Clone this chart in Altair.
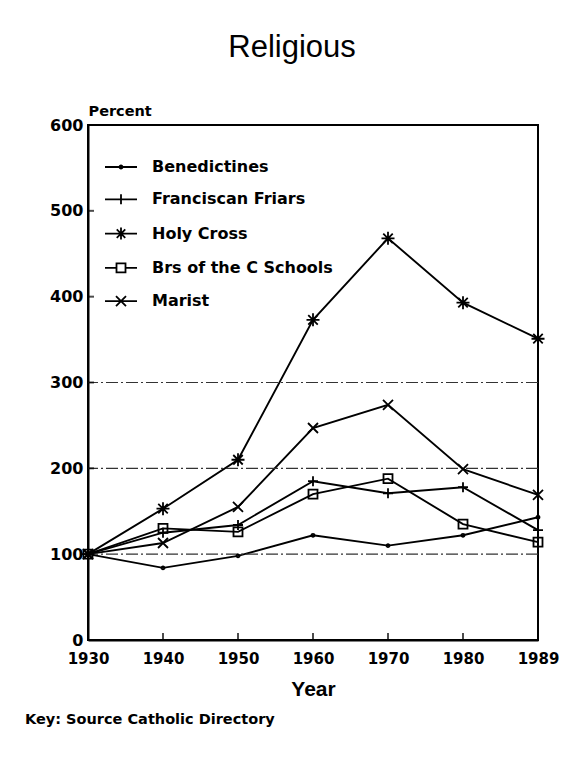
import altair as alt
import pandas as pd

years = ["1930", "1940", "1950", "1960", "1970", "1980", "1989"]
series = ["Benedictines", "Franciscan Friars", "Holy Cross", "Brs of the C Schools", "Marist"]
benedictines = [100, 84, 98, 122, 110, 122, 143]
franciscan = [100, 125, 134, 185, 171, 178, 128]
holy_cross = [100, 153, 210, 373, 468, 393, 351]
brothers = [100, 130, 126, 170, 188, 135, 114]
marist = [100, 113, 155, 247, 274, 199, 169]
grid_values = [100, 200, 300]
y_ticks = [0, 100, 200, 300, 400, 500, 600]

values = [benedictines, franciscan, holy_cross, brothers, marist]
rows = []
for s, vals in zip(series, values):
    for yr, v in zip(years, vals):
        rows.append({"series": s, "year": yr, "value": v})
df = pd.DataFrame(rows)

FONT = "Liberation Sans"
BOLD = "DejaVu Sans"

marker_paths = [
    "M-0.3,0A0.3,0.3 0 1,0 0.3,0A0.3,0.3 0 1,0 -0.3,0Z",
    "M-1,0H1M0,-1V1",
    "M-1.3,0H1.3M0,-1.3V1.3M-0.95,-0.95L0.95,0.95M-0.95,0.95L0.95,-0.95",
    "M-0.9,-0.9H0.9V0.9H-0.9Z",
    "M-1,-1L1,1M-1,1L1,-1",
]
legend_paths = [
    "M-3.2,0H3.2M-0.3,0A0.3,0.3 0 1,0 0.3,0A0.3,0.3 0 1,0 -0.3,0Z",
    "M-3.2,0H3.2M0,-1V1",
    "M-3.2,0H3.2M0,-1.2V1.2M-0.85,-0.85L0.85,0.85M-0.85,0.85L0.85,-0.85",
    "M-3.2,0H-0.9M0.9,0H3.2M-0.9,-0.9H0.9V0.9H-0.9Z",
    "M-3.2,0H3.2M-1,-1L1,1M-1,1L1,-1",
]

x_scale = alt.Scale(type="point", padding=0, domain=years)
y_scale = alt.Scale(domain=[0, 600], nice=False)

x_enc = alt.X("year:O", sort=years, scale=x_scale,
              axis=alt.Axis(title="Year", labelAngle=0, ticks=False,
                            labelFont=BOLD, labelFontWeight="bold", labelFontSize=15,
                            labelColor="black", labelPadding=11,
                            titleFont=FONT, titleFontSize=21, titleFontWeight="bold",
                            titleColor="black", titlePadding=12,
                            domainColor="black", domainWidth=2, grid=False))
y_enc = alt.Y("value:Q", scale=y_scale,
              axis=alt.Axis(values=y_ticks, title="Percent", titleAngle=0,
                            titleAlign="left", titleBaseline="alphabetic",
                            titleX=0, titleY=-10, titleFont=BOLD, titleFontSize=14.5,
                            titleFontWeight="bold", titleColor="black",
                            ticks=False, labelFont=BOLD, labelFontWeight="bold",
                            labelFontSize=16, labelColor="black", labelPadding=5,
                            domainColor="black", domainWidth=2, grid=False))

base = alt.Chart(df)

lines = base.mark_line(color="black", strokeWidth=1.9).encode(
    x=x_enc, y=y_enc, detail="series:N"
)

grid = alt.Chart(pd.DataFrame({"v": grid_values})).mark_rule(
    color="#333", strokeWidth=1.2, strokeDash=[12, 3, 2, 3]
).encode(y=alt.Y("v:Q", scale=y_scale))

x_ticks = alt.Chart(pd.DataFrame({"year": years})).mark_tick(
    color="black", thickness=2, size=7, orient="vertical"
).encode(x=alt.X("year:O", sort=years, scale=x_scale), y=alt.value(511.5))

y_tick_marks = alt.Chart(pd.DataFrame({"v": y_ticks})).mark_tick(
    color="black", thickness=2, size=6, orient="horizontal"
).encode(y=alt.Y("v:Q", scale=y_scale), x=alt.value(3))

points = base.mark_point(color="black", filled=False, strokeWidth=1.8, size=100, opacity=1).encode(
    x=alt.X("year:O", sort=years, scale=x_scale),
    y=alt.Y("value:Q", scale=y_scale),
    shape=alt.Shape("series:N", sort=series,
                    scale=alt.Scale(domain=series, range=marker_paths), legend=None),
)

legend_layer = base.mark_point(color="black", filled=False, strokeWidth=1.8, opacity=0).encode(
    x=alt.X("year:O", sort=years, scale=x_scale),
    y=alt.Y("value:Q", scale=y_scale),
    shape=alt.Shape("series:N", sort=series,
                    scale=alt.Scale(domain=series, range=legend_paths),
                    legend=alt.Legend(title=None, orient="none", legendX=25, legendY=34,
                                      symbolSize=100, symbolStrokeWidth=1.8,
                                      symbolStrokeColor="black", symbolFillColor="white",
                                      symbolOpacity=1, labelFont=BOLD, labelFontWeight="bold",
                                      labelFontSize=16, labelColor="black", labelLimit=400,
                                      labelOffset=23, rowPadding=15.3, padding=0)),
)

key = alt.Chart(pd.DataFrame({"t": ["Key: Source Catholic Directory"]})).mark_text(
    align="left", baseline="alphabetic", font=BOLD, fontSize=14.5, fontWeight="bold", color="black"
).encode(text="t:N", x=alt.value(-63), y=alt.value(599))

chart = alt.layer(lines, grid, x_ticks, y_tick_marks, points, legend_layer, key).resolve_scale(
    shape="independent"
).properties(
    width=450, height=515,
    padding={"left": 80, "top": 117, "right": 30, "bottom": 100},
    autosize=alt.AutoSizeParams(type="none"),
    background="white",
    title=alt.TitleParams("Religious", font=FONT, fontSize=31, fontWeight="normal",
                          color="black", anchor="middle", dx=-21, offset=39),
).configure_view(stroke="black", strokeWidth=2)

chart.save("out.html", embed_options={"renderer": "svg", "actions": False})
